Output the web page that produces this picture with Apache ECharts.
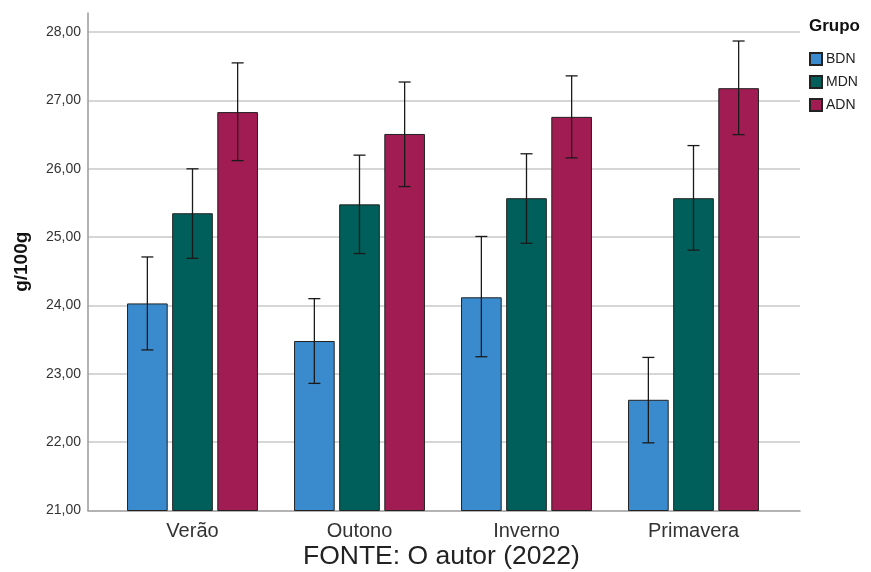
<!DOCTYPE html>
<html>
<head>
<meta charset="utf-8">
<script src="https://cdn.jsdelivr.net/npm/echarts@6/dist/echarts.min.js"></script>
<style>
  html, body { margin: 0; padding: 0; background: #fff; }
  #chart { width: 871px; height: 572px; }
</style>
</head>
<body>
<div id="chart"></div>
<script>
// Estações do ano e médias por grupo (g/100g)
const categories = ['Verão', 'Outono', 'Inverno', 'Primavera'];
const groups = ['BDN', 'MDN', 'ADN'];

const bdnMean = [24.03, 23.48, 24.12, 22.62];
const mdnMean = [25.35, 25.48, 25.57, 25.57];
const adnMean = [26.83, 26.51, 26.76, 27.18];

// Limites inferior e superior das barras de erro
const bdnLow  = [23.35, 22.86, 23.25, 21.99];
const bdnHigh = [24.71, 24.10, 25.01, 23.24];
const mdnLow  = [24.69, 24.76, 24.91, 24.81];
const mdnHigh = [26.00, 26.20, 26.22, 26.34];
const adnLow  = [26.12, 25.74, 26.16, 26.50];
const adnHigh = [27.55, 27.27, 27.36, 27.87];

const yTicks = [21, 22, 23, 24, 25, 26, 27, 28];

const colors = ['#3a8bcd', '#005f5b', '#a11c52'];
const FONT = "'Liberation Sans', Arial, sans-serif";
const CAT_GAP = 0.216;
const BAR_GAP = 0.11;

const means = [bdnMean, mdnMean, adnMean];
const lows = [bdnLow, mdnLow, adnLow];
const highs = [bdnHigh, mdnHigh, adnHigh];

const errData = [];
for (let s = 0; s < 3; s++) {
  for (let i = 0; i < categories.length; i++) {
    errData.push([i, lows[s][i], highs[s][i], s]);
  }
}

const chart = echarts.init(document.getElementById('chart'), null, { renderer: 'canvas' });

const fmt = v => v.toFixed(2).replace('.', ',');

const option = {
  animation: false,
  backgroundColor: '#ffffff',
  textStyle: { fontFamily: FONT },
  title: [
    {
      text: 'Grupo', left: 809, top: 18, padding: 0,
      textStyle: { fontFamily: FONT, fontSize: 17, fontWeight: 'bold', color: '#111' }
    },
    {
      text: 'FONTE: O autor (2022)', left: 303, top: 543, padding: 0,
      textStyle: { fontFamily: FONT, fontSize: 26.5, fontWeight: 'normal', color: '#222' }
    }
  ],
  legend: {
    data: groups,
    orient: 'vertical',
    left: 809, top: 52, padding: 0,
    itemWidth: 12, itemHeight: 12, itemGap: 9,
    icon: 'rect',
    textStyle: { fontFamily: FONT, fontSize: 14, color: '#222', padding: [0, 0, 0, -1] }
  },
  grid: [
    { left: 88, right: 71, top: 13, bottom: 61.5, containLabel: false, outerBoundsMode: 'none' },
    { left: 109, right: 94, top: 13, bottom: 61.5, containLabel: false, outerBoundsMode: 'none' }
  ],
  xAxis: [
    {
      gridIndex: 0, type: 'value', min: 0, max: 1,
      axisLine: { show: true, lineStyle: { color: '#9a9a9a', width: 1.5 } },
      axisTick: { show: false }, axisLabel: { show: false }, splitLine: { show: false }
    },
    {
      gridIndex: 1, type: 'category', data: categories,
      axisLine: { show: false }, axisTick: { show: false },
      axisLabel: { fontFamily: FONT, fontSize: 20, color: '#333', margin: 11 }
    }
  ],
  yAxis: [
    {
      gridIndex: 0, type: 'value', min: yTicks[0], max: 28.28, interval: 1,
      name: 'g/100g', nameLocation: 'middle', nameGap: 57,
      nameTextStyle: { fontFamily: FONT, fontSize: 19, fontWeight: 'bold', color: '#111' },
      axisLine: { show: true, lineStyle: { color: '#9a9a9a', width: 1.5 } },
      axisTick: { show: false },
      axisLabel: {
        fontFamily: FONT, fontSize: 14, color: '#333', margin: 7,
        showMaxLabel: false,
        formatter: v => (yTicks.includes(v) ? fmt(v) : '')
      },
      splitLine: {
        show: true, showMinLine: false, showMaxLine: false,
        lineStyle: { color: '#c8c8c8', width: 1.5 }
      }
    },
    {
      gridIndex: 1, type: 'value', min: yTicks[0], max: 28.28, show: false,
      splitLine: { show: false }
    }
  ],
  series: [
    ...groups.map((g, s) => ({
      name: g, type: 'bar', xAxisIndex: 1, yAxisIndex: 1,
      data: means[s],
      barCategoryGap: (CAT_GAP * 100) + '%',
      barGap: (BAR_GAP * 100) + '%',
      itemStyle: { color: colors[s], borderColor: '#222', borderWidth: 1 },
      z: 2
    })),
    {
      name: 'erro', type: 'custom', xAxisIndex: 1, yAxisIndex: 1,
      data: errData,
      z: 5,
      silent: true,
      renderItem: (params, api) => {
        const band = api.size([1, 0])[0];
        const groupW = band * (1 - CAT_GAP);
        const barW = groupW / (3 + 2 * BAR_GAP);
        const step = barW * (1 + BAR_GAP);
        const s = api.value(3);
        const lo = api.coord([api.value(0), api.value(1)]);
        const hi = api.coord([api.value(0), api.value(2)]);
        const x = lo[0] + (s - 1) * step;
        const cap = 6;
        const style = { stroke: '#1a1a1a', lineWidth: 1.3 };
        return {
          type: 'group',
          children: [
            { type: 'line', shape: { x1: x, y1: hi[1], x2: x, y2: lo[1] }, style },
            { type: 'line', shape: { x1: x - cap, y1: hi[1], x2: x + cap, y2: hi[1] }, style },
            { type: 'line', shape: { x1: x - cap, y1: lo[1], x2: x + cap, y2: lo[1] }, style }
          ]
        };
      }
    }
  ]
};

chart.setOption(option);
</script>
</body>
</html>
